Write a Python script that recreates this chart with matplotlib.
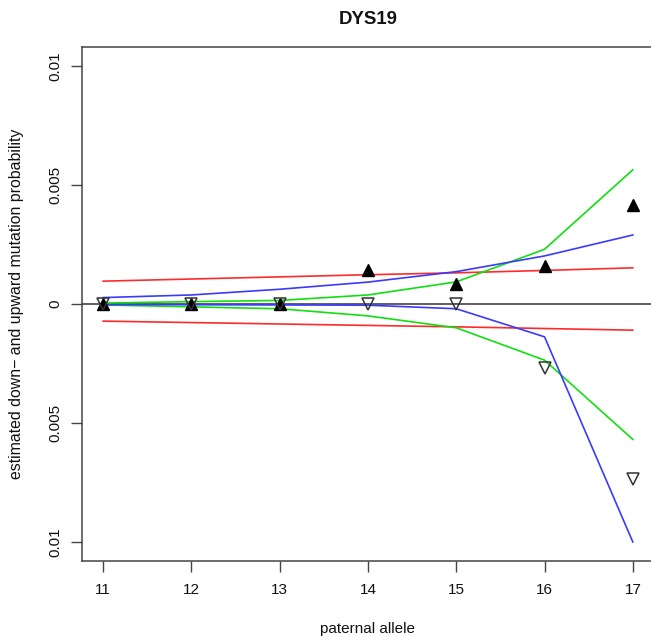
import matplotlib
matplotlib.use("Agg")
import matplotlib.pyplot as plt
from matplotlib.ticker import FixedLocator, FixedFormatter

plt.rcParams['font.family'] = ['Liberation Sans', 'DejaVu Sans']

# paternal allele lengths
alleles = [11, 12, 13, 14, 15, 16, 17]

# observed upward / downward mutation rates
obs_up = [0.0, 0.0, 0.0, 0.00143, 0.00084, 0.00158, 0.00417]
obs_down = [0.0, 0.0, 0.0, 0.0, 0.0, -0.0027, -0.00735]

# fitted models (upward positive, downward negative)
red_up = [0.00096, 0.00105, 0.00114, 0.00123, 0.00131, 0.00141, 0.00152]
red_down = [-0.00072, -0.00078, -0.00084, -0.0009, -0.00096, -0.00103, -0.0011]
blue_up = [0.00027, 0.00038, 0.00062, 0.00092, 0.00136, 0.00202, 0.0029]
blue_down = [-0.00003, -0.00003, -0.00004, -0.00005, -0.0002, -0.00138, -0.01]
green_up = [0.00004, 0.0001, 0.00015, 0.00038, 0.00093, 0.0023, 0.00564]
green_down = [-0.00004, -0.00012, -0.0002, -0.0005, -0.001, -0.00236, -0.00569]

yticks = [-0.01, -0.005, 0, 0.005, 0.01]
ytick_labels = ["0.01", "0.005", "0", "0.005", "0.01"]

W, H = 651, 637
fig = plt.figure(figsize=(W / 100, H / 100), dpi=100)
ax = fig.add_axes([82 / W, 1 - 561 / H, (654 - 82) / W, (561 - 47) / H])

lw = 1.2
ax.axhline(0, color="#333333", lw=1.1, zorder=1)
ax.plot(alleles, red_up, color="#ff2a2a", lw=lw, zorder=2)
ax.plot(alleles, red_down, color="#ff2a2a", lw=lw, zorder=2)
ax.plot(alleles, green_up, color="#10e010", lw=lw, zorder=2)
ax.plot(alleles, green_down, color="#10e010", lw=lw, zorder=2)
ax.plot(alleles, blue_up, color="#3a3aff", lw=lw, zorder=2)
ax.plot(alleles, blue_down, color="#3a3aff", lw=lw, zorder=2)

ax.plot(alleles, obs_up, linestyle="none", marker="^", markersize=8.5,
        color="black", zorder=3)
ax.plot(alleles, obs_down, linestyle="none", marker="v", markersize=8.5,
        markerfacecolor="none", markeredgecolor="#333333", markeredgewidth=1.1,
        zorder=4)

ax.set_xlim(10.76, 17.24)
ax.set_ylim(-0.0108, 0.0108)

ax.xaxis.set_major_locator(FixedLocator(alleles))
ax.set_xticklabels([str(a) for a in alleles])
ax.yaxis.set_major_locator(FixedLocator(yticks))
ax.yaxis.set_major_formatter(FixedFormatter(ytick_labels))

for s in ax.spines.values():
    s.set_color("#444444")
    s.set_linewidth(1.1)
ax.tick_params(axis="both", direction="out", length=8, width=1.0,
               color="#444444", labelsize=11, labelcolor="#111111")
ax.tick_params(axis="x", pad=8)
ax.tick_params(axis="y", pad=6)
for lab in ax.get_yticklabels():
    lab.set_rotation(90)
    lab.set_va("center")

fig.text(368 / W, 1 - 20 / H, "DYS19", ha="center", va="center",
         fontsize=13.4, fontweight="bold", color="#111111")
fig.text(368 / W, 1 - 629 / H, "paternal allele", ha="center", va="center",
         fontsize=11, color="#111111")
fig.text(17 / W, 1 - 304 / H, "estimated down\u2212 and upward mutation probability",
         ha="center", va="center", rotation=90, fontsize=11.4, color="#111111")

fig.savefig("out.png", dpi=100)
